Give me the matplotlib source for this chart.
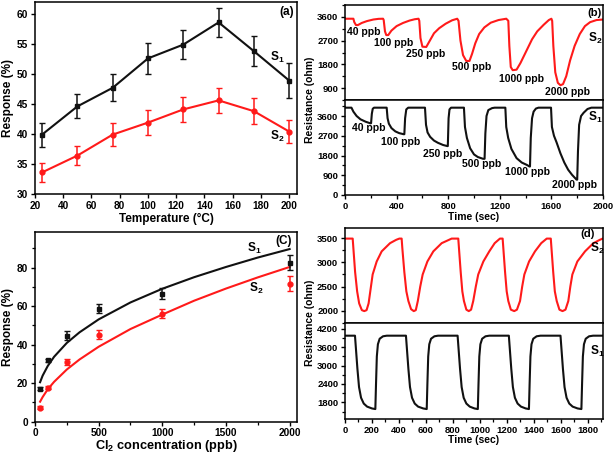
import matplotlib
matplotlib.use("Agg")
import matplotlib.pyplot as plt
from matplotlib.ticker import MultipleLocator

plt.rcParams['font.family'] = ['Liberation Sans', 'DejaVu Sans']
plt.rcParams['font.weight'] = 'bold'
plt.rcParams['axes.labelweight'] = 'bold'
plt.rcParams['mathtext.fontset'] = 'custom'
plt.rcParams['mathtext.rm'] = 'Liberation Sans:bold'
plt.rcParams['mathtext.it'] = 'Liberation Sans:bold'
plt.rcParams['mathtext.bf'] = 'Liberation Sans:bold'
plt.rcParams['mathtext.default'] = 'bf'
plt.rcParams['axes.linewidth'] = 1.1
plt.rcParams['xtick.major.width'] = 1.0
plt.rcParams['ytick.major.width'] = 1.0
plt.rcParams['xtick.minor.width'] = 0.9
plt.rcParams['ytick.minor.width'] = 0.9
plt.rcParams['xtick.major.size'] = 3.0
plt.rcParams['ytick.major.size'] = 3.0
plt.rcParams['xtick.minor.size'] = 2.0
plt.rcParams['ytick.minor.size'] = 2.0
plt.rcParams['xtick.major.pad'] = 1.8
plt.rcParams['ytick.major.pad'] = 1.8
plt.rcParams['xtick.labelsize'] = 7.3
plt.rcParams['ytick.labelsize'] = 7.3

RED = '#ff1a1a'
BLK = '#111111'

# ---------------- Panel (a) data ----------------
temperature = [25, 50, 75, 100, 125, 150, 175, 200]
a_s1 = [39.9, 44.6, 47.7, 52.6, 54.9, 58.6, 53.8, 48.9]
a_s1_err = [2.0, 2.0, 2.25, 2.6, 2.45, 2.35, 2.5, 2.9]
a_s2 = [33.6, 36.4, 39.9, 41.9, 44.1, 45.6, 43.8, 40.4]
a_s2_err = [1.6, 1.55, 1.95, 2.1, 2.1, 2.05, 2.15, 1.9]

# ---------------- Panel (b) data ----------------
b_s2_time = [0, 65, 72, 85, 100, 130, 170, 220, 260, 295,
             300, 310, 320, 335, 360, 400, 450, 500, 540, 570,
             576, 585, 600, 630, 660, 690, 730, 780, 830, 870,
             880, 895, 915, 940, 965, 985, 1010, 1040, 1080, 1130, 1190, 1250,
             1266, 1274, 1285, 1300, 1330, 1360, 1400, 1450, 1490, 1540, 1580, 1600,
             1606, 1615, 1630, 1650, 1670, 1690, 1715, 1745, 1780, 1820, 1860, 1900, 1950, 2000]
b_s2_res = [3530, 3530, 3400, 3290, 3290, 3370, 3440, 3500, 3525, 3530,
            3480, 3050, 2910, 2910, 3080, 3250, 3370, 3460, 3510, 3530,
            3450, 2800, 2470, 2460, 2720, 2980, 3170, 3340, 3470, 3530,
            3450, 2700, 2150, 1930, 1930, 2200, 2600, 2950, 3200, 3380, 3480, 3530,
            3450, 2500, 1700, 1580, 1600, 1850, 2250, 2750, 3050, 3300, 3480, 3530,
            3450, 2500, 1500, 1100, 1010, 1050, 1350, 1950, 2500, 2950, 3250, 3400, 3480, 3500]

b_s1_time = [0, 50, 65, 90, 120, 160, 195, 202, 208, 215, 225, 323,
             330, 340, 360, 390, 420, 455, 460, 466, 475, 490, 620,
             628, 640, 660, 690, 720, 760, 793, 797, 803, 810, 822, 922,
             930, 945, 970, 1000, 1030, 1070, 1082, 1088, 1097, 1111, 1140, 1160, 1243,
             1250, 1265, 1290, 1330, 1370, 1410, 1430, 1434, 1440, 1450, 1462, 1480, 1500, 1597,
             1604, 1620, 1640, 1670, 1700, 1730, 1760, 1795, 1800, 1806, 1815, 1830, 1850, 1880, 1910, 2000]
b_s1_res = [3980, 3980, 3800, 3600, 3450, 3340, 3270, 3270, 3700, 3930, 3980, 3980,
            3500, 3250, 3050, 2900, 2820, 2770, 2770, 3500, 3900, 3980, 3980,
            3200, 2850, 2650, 2480, 2380, 2280, 2230, 2230, 3500, 3900, 3980, 3980,
            3100, 2600, 2130, 1850, 1730, 1650, 1650, 2800, 3600, 3870, 3960, 3980, 3980,
            3100, 2600, 2100, 1680, 1480, 1370, 1300, 1300, 2600, 3500, 3800, 3940, 3980, 3980,
            3100, 2700, 2400, 1900, 1480, 1150, 920, 700, 700, 2000, 3200, 3600, 3750, 3920, 3980, 3980]

b_top_labels = ["40 ppb", "100 ppb", "250 ppb", "500 ppb", "1000 ppb", "2000 ppb"]
b_top_label_t = [13, 228, 473, 828, 1190, 1552]
b_top_label_r = [3020, 2616, 2212, 1683, 1253, 761]
b_bot_label_t = [52, 279, 608, 905, 1242, 1604]
b_bot_label_r = [3071, 2436, 1891, 1407, 1029, 439]

# ---------------- Panel (c) data ----------------
conc = [40, 100, 250, 500, 1000, 2000]
c_s1 = [17.0, 31.8, 44.7, 58.6, 66.4, 82.6]
c_s1_err = [0.8, 0.9, 2.2, 2.4, 2.9, 3.7]
c_s2 = [7.3, 17.7, 30.8, 45.2, 56.0, 71.6]
c_s2_err = [0.7, 0.8, 1.5, 2.2, 2.3, 3.8]
fit_conc = [40, 60, 100, 150, 250, 350, 500, 750, 1000, 1250, 1500, 1750, 2000]
fit_s1 = [20.5, 23.9, 28.9, 33.7, 40.9, 46.4, 53.1, 61.9, 69.0, 75.0, 80.3, 85.2, 89.6]
fit_s2 = [10.4, 12.8, 16.8, 20.7, 27.1, 32.3, 38.9, 48.1, 55.6, 62.8, 69.1, 74.9, 80.3]

# ---------------- Panel (d) data ----------------
d_s2_time = [0, 57, 62, 75, 90, 105, 125, 143, 160, 175, 190, 205, 235, 272, 334, 380, 403, 420,
             425, 440, 455, 470, 490, 510, 525, 540, 558, 576, 611, 655, 717, 791, 840,
             845, 858, 870, 882, 900, 918, 935, 951, 970, 988, 1026, 1070, 1110, 1149, 1169,
             1174, 1187, 1199, 1211, 1230, 1255, 1275, 1298, 1314, 1330, 1365, 1409, 1455, 1496, 1526,
             1531, 1544, 1556, 1570, 1590, 1613, 1635, 1656, 1671, 1686, 1723, 1780, 1842, 1890, 1911]
d_s2_res = [3495, 3495, 3300, 2800, 2400, 2150, 2010, 1990, 2010, 2150, 2450, 2750, 3020, 3230, 3400, 3470, 3495, 3495,
            3300, 2800, 2400, 2200, 2030, 1990, 2010, 2200, 2500, 2750, 3020, 3230, 3400, 3495, 3495,
            3300, 2800, 2400, 2200, 2020, 1990, 2020, 2200, 2500, 2750, 3020, 3230, 3400, 3495, 3495,
            3300, 2800, 2400, 2200, 2020, 1990, 2020, 2200, 2500, 2750, 3020, 3230, 3400, 3495, 3495,
            3300, 2800, 2400, 2200, 2020, 1990, 2020, 2200, 2500, 2750, 3020, 3230, 3400, 3470, 3495]

d_s1_time = [0, 74, 82, 92, 104, 119, 139, 164, 200, 225, 230, 236, 244, 257, 282, 310,
             452, 460, 470, 482, 497, 517, 542, 580, 606, 611, 617, 625, 638, 663, 690,
             835, 843, 853, 865, 880, 900, 925, 960, 985, 990, 996, 1004, 1017, 1042, 1070,
             1215, 1223, 1233, 1245, 1260, 1280, 1305, 1340, 1364, 1369, 1375, 1383, 1396, 1421, 1450,
             1598, 1606, 1616, 1628, 1643, 1663, 1688, 1725, 1753, 1758, 1764, 1772, 1785, 1810, 1840, 1911]
d_s1_res = [3980, 3980, 3500, 2900, 2300, 1950, 1760, 1660, 1600, 1580, 2400, 3300, 3700, 3880, 3960, 3980,
            3980, 3500, 2900, 2300, 1950, 1760, 1660, 1600, 1580, 2400, 3300, 3700, 3880, 3960, 3980,
            3980, 3500, 2900, 2300, 1950, 1760, 1660, 1600, 1580, 2400, 3300, 3700, 3880, 3960, 3980,
            3980, 3500, 2900, 2300, 1950, 1760, 1660, 1600, 1580, 2400, 3300, 3700, 3880, 3960, 3980,
            3980, 3500, 2900, 2300, 1950, 1760, 1660, 1600, 1580, 2400, 3300, 3700, 3880, 3960, 3980, 3980]

W, H = 614, 457
fig = plt.figure(figsize=(W / 100, H / 100), dpi=100)


def add_ax(l, t, r, b):
    return fig.add_axes([l / W, 1 - b / H, (r - l) / W, (b - t) / H])


LBL = 8.5
ANN = 7.5
SFS = 8.6
SMALL_TICK = 6.8
RLBL = 7.5

# ---- (a)
ax = add_ax(35, 2, 297, 194)
ax.errorbar(temperature, a_s1, yerr=a_s1_err, color=BLK, marker='s', ms=3.5, lw=1.5,
            elinewidth=1.1, capsize=2.5, capthick=1.0)
ax.errorbar(temperature, a_s2, yerr=a_s2_err, color=RED, marker='o', ms=3.5, lw=1.5,
            elinewidth=1.1, capsize=2.5, capthick=1.0)
ax.set_xlim(20, 205.5)
ax.set_ylim(30, 62)
ax.xaxis.set_major_locator(MultipleLocator(20))
ax.yaxis.set_major_locator(MultipleLocator(5))
ax.set_xlabel('Temperature (°C)', fontsize=LBL, labelpad=1.5)
ax.set_ylabel('Response (%)', fontsize=LBL, labelpad=2)
ax.text(186.5, 52.8, 'S$_1$', fontsize=SFS, ha='left', va='center')
ax.text(186.5, 39.6, 'S$_2$', fontsize=SFS, ha='left', va='center')
ax.text(0.99, 0.95, '(a)', transform=ax.transAxes, fontsize=8.5, ha='right', va='center')

# ---- (b)
axt = add_ax(345, 5, 603, 100)
axb = add_ax(345, 100, 603, 195)
axt.plot(b_s2_time, b_s2_res, color=RED, lw=1.5)
axb.plot(b_s1_time, b_s1_res, color=BLK, lw=1.5)
for a_ in (axt, axb):
    a_.set_xlim(0, 2000)
    a_.xaxis.set_major_locator(MultipleLocator(400))
    a_.xaxis.set_minor_locator(MultipleLocator(200))
    a_.yaxis.set_major_locator(MultipleLocator(900))
    a_.yaxis.set_minor_locator(MultipleLocator(450))
    a_.tick_params(labelsize=SMALL_TICK)
axt.set_ylim(450, 4050)
axb.set_ylim(0, 4330)
axt.tick_params(axis='x', which='both', bottom=False, labelbottom=False)
axt.set_yticks([900, 1800, 2700, 3600])
axb.set_yticks([0, 900, 1800, 2700, 3600])
axb.set_xlabel('Time (sec)', fontsize=RLBL, labelpad=1)
for lab, t, r in zip(b_top_labels, b_top_label_t, b_top_label_r):
    axt.text(t, r, lab, fontsize=ANN, ha='left', va='center')
for lab, t, r in zip(b_top_labels, b_bot_label_t, b_bot_label_r):
    axb.text(t, r, lab, fontsize=ANN, ha='left', va='center')
axt.text(1883, 2780, 'S$_2$', fontsize=SFS, ha='left', va='center')
axb.text(1883, 3525, 'S$_1$', fontsize=SFS, ha='left', va='center')
axt.text(0.996, 0.92, '(b)', transform=axt.transAxes, fontsize=8.2, ha='right', va='center')
fig.text(310 / W, 1 - 100 / H, 'Resistance (ohm)', rotation=90, fontsize=RLBL,
         ha='center', va='center', fontweight='bold')

# ---- (c)
axc = add_ax(35, 232.3, 297, 421.7)
axc.plot(fit_conc, fit_s1, color=BLK, lw=1.5)
axc.plot(fit_conc, fit_s2, color=RED, lw=1.5)
axc.errorbar(conc, c_s1, yerr=c_s1_err, color=BLK, marker='s', ms=3.5, ls='none',
             elinewidth=1.1, capsize=2.5, capthick=1.0)
axc.errorbar(conc, c_s2, yerr=c_s2_err, color=RED, marker='o', ms=3.5, ls='none',
             elinewidth=1.1, capsize=2.5, capthick=1.0)
axc.set_xlim(0, 2058)
axc.set_ylim(0, 98.3)
axc.xaxis.set_major_locator(MultipleLocator(500))
axc.xaxis.set_minor_locator(MultipleLocator(250))
axc.yaxis.set_major_locator(MultipleLocator(20))
axc.yaxis.set_minor_locator(MultipleLocator(10))
axc.set_xlabel('Cl$_2$ concentration (ppb)', fontsize=9.2, labelpad=0)
axc.set_ylabel('Response (%)', fontsize=LBL, labelpad=2)
axc.text(1664, 90, 'S$_1$', fontsize=SFS, ha='left', va='center')
axc.text(1678, 69.3, 'S$_2$', fontsize=SFS, ha='left', va='center')
axc.text(0.98, 0.955, '(C)', transform=axc.transAxes, fontsize=8.5, ha='right', va='center')

# ---- (d)
adt = add_ax(345, 227.7, 602.7, 323.3)
adb = add_ax(345, 323.3, 602.7, 419)
adt.plot(d_s2_time, d_s2_res, color=RED, lw=1.5)
adb.plot(d_s1_time, d_s1_res, color=BLK, lw=1.5)
for a_ in (adt, adb):
    a_.set_xlim(0, 1911)
    a_.xaxis.set_major_locator(MultipleLocator(200))
    a_.xaxis.set_minor_locator(MultipleLocator(100))
    a_.tick_params(labelsize=SMALL_TICK)
adt.tick_params(axis='x', which='both', bottom=False, labelbottom=False)
adt.set_ylim(1737, 3721)
adt.yaxis.set_major_locator(MultipleLocator(500))
adt.yaxis.set_minor_locator(MultipleLocator(250))
adb.set_ylim(1255, 4385)
adb.yaxis.set_major_locator(MultipleLocator(600))
adb.yaxis.set_minor_locator(MultipleLocator(300))
adb.set_xlabel('Time (sec)', fontsize=RLBL, labelpad=0.5)
adt.text(1818, 3280, 'S$_2$', fontsize=SFS, ha='left', va='center')
adb.text(1818, 3480, 'S$_1$', fontsize=SFS, ha='left', va='center')
adt.text(0.97, 0.93, '(d)', transform=adt.transAxes, fontsize=8.2, ha='right', va='center')
fig.text(310 / W, 1 - 323 / H, 'Resistance (ohm)', rotation=90, fontsize=RLBL,
         ha='center', va='center', fontweight='bold')

fig.savefig('out.png', dpi=100)
